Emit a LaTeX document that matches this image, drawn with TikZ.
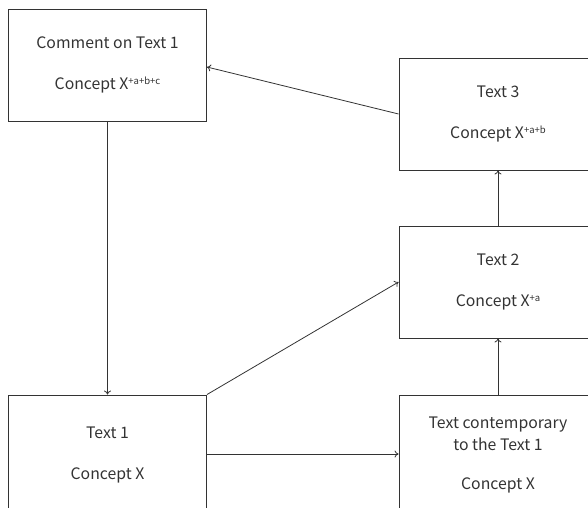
\documentclass[tikz,border=0pt]{standalone}
\usepackage{fontspec}
\setmainfont{Noto Sans CJK SC}
\usetikzlibrary{arrows.meta}
\definecolor{ink}{HTML}{333333}
\newcommand{\sups}[1]{\raisebox{0.33em}{\fontsize{9.5}{9.5}\selectfont #1}}
\tikzset{
  x=1pt, y=1pt,
  textbox/.style={draw=ink, line width=0.9pt, text=ink, align=center,
    minimum width=198pt, minimum height=112pt, inner sep=0pt,
    font=\fontsize{15.8}{22}\selectfont},
  lowbox/.style={textbox, minimum height=120pt},
  link/.style={draw=ink, line width=0.8pt, -{To[length=4pt,width=7pt]}}
}
\begin{document}
\begin{tikzpicture}
\useasboundingbox (0,0) rectangle (588,-507);
\clip (0,0) rectangle (588,-507);
\node[textbox] (comment) at (107.5,-65) {Comment on Text 1\\[19pt]Concept X\sups{+a+b+c}};
\node[textbox] (t3) at (498,-114) {Text 3\\[19pt]Concept X\sups{+a+b}};
\node[textbox] (t2) at (498,-282) {Text 2\\[19pt]Concept X\sups{+a}};
\node[lowbox] (t1) at (107.5,-455) {Text 1\\[19pt]Concept X};
\node[lowbox] (tc) at (498,-455) {Text contemporary\\to the Text 1\\[17pt]Concept X};
\draw[link] (t3.west |- 0,-114) -- (comment.east |- 0,-67);
\draw[link] (comment.south) -- (t1.north);
\draw[link] (t1.north east) -- (t2.west |- 0,-282);
\draw[link] (t1.east |- 0,-454) -- (tc.west |- 0,-454);
\draw[link] (tc.north) -- (t2.south);
\draw[link] (t2.north) -- (t3.south);
\end{tikzpicture}
\end{document}
